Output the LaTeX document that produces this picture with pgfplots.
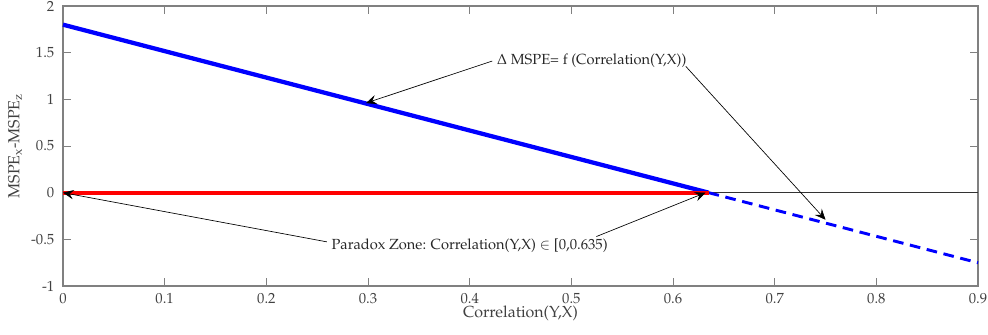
\documentclass[border=0pt]{standalone}
\usepackage[T1]{fontenc}
\usepackage{mathpazo}
\usepackage{pgfplots}
\pgfplotsset{compat=1.18}
\usetikzlibrary{arrows.meta}
\definecolor{axgray}{gray}{0.5}
\definecolor{txtgray}{gray}{0.25}
\definecolor{mblue}{rgb}{0,0,1}
\definecolor{mred}{rgb}{1,0,0}
\begin{document}
\begin{tikzpicture}
\begin{axis}[
  name=ax,
  scale only axis,
  width=686.25pt, height=210pt,
  xmin=0, xmax=0.9, ymin=-1, ymax=2,
  xtick={0,0.1,...,0.9},
  xticklabels={0,0.1,0.2,0.3,0.4,0.5,0.6,0.7,0.8,0.9},
  ytick={-1,-0.5,0,0.5,1,1.5,2},
  yticklabels={-1,-0.5,0,0.5,1,1.5,2},
  tick align=inside,
  major tick length=6pt,
  tick style={axgray, line width=0.6pt},
  axis line style={axgray, line width=0.8pt},
  ticklabel style={font=\fontsize{11}{13}\selectfont, text=txtgray},
  yticklabel style={xshift=-3pt},
  xticklabel style={yshift=-2pt},
  xlabel style={font=\fontsize{12}{14}\selectfont, text=txtgray, yshift=5pt},
  ylabel style={font=\fontsize{12}{14}\selectfont, text=txtgray, yshift=0pt},
  xlabel={Correlation(Y,X)},
  ylabel={MSPE\textsubscript{x}-MSPE\textsubscript{z}},
  clip=false,
]
\addplot[black!80, line width=0.6pt] coordinates {(0,0) (0.9,0)};
\addplot[mblue, line width=3.2pt] coordinates {(0,1.8) (0.635,0)};
\addplot[mblue, line width=2.2pt, dash pattern=on 8pt off 5pt] coordinates {(0.635,0) (0.9,-0.751)};
\addplot[mred, line width=3.2pt] coordinates {(0,0) (0.635,0)};

\node[font=\fontsize{11}{13}\selectfont, text=black!85] (A) at (axis cs:0.52,1.41) {$\Delta$ MSPE= f (Correlation(Y,X))};
\draw[black, line width=0.5pt, -{Stealth[length=8pt,width=7pt,inset=3pt]}] (A.west) -- (axis cs:0.298,0.96);
\draw[black, line width=0.5pt, -{Stealth[length=8pt,width=7pt,inset=3pt]}] ([xshift=-4pt,yshift=-4pt]A.east) -- (axis cs:0.75,-0.29);

\node[font=\fontsize{11}{13}\selectfont, text=black!85] (B) at (axis cs:0.40,-0.57) {Paradox Zone: Correlation(Y,X) $\in$ [0,0.635)};
\draw[black, line width=0.5pt, -{Stealth[length=8pt,width=7pt,inset=3pt]}] ([yshift=3pt]B.west) -- (axis cs:0.0,0.0);
\draw[black, line width=0.5pt, -{Stealth[length=8pt,width=7pt,inset=3pt]}] ([xshift=-12pt,yshift=7pt]B.east) -- (axis cs:0.632,0.0);
\end{axis}
\pgfresetboundingbox
\useasboundingbox ([xshift=-47.25pt,yshift=-36.75pt]ax.south west) rectangle ([xshift=7.5pt,yshift=4.5pt]ax.north east);
\end{tikzpicture}
\end{document}
